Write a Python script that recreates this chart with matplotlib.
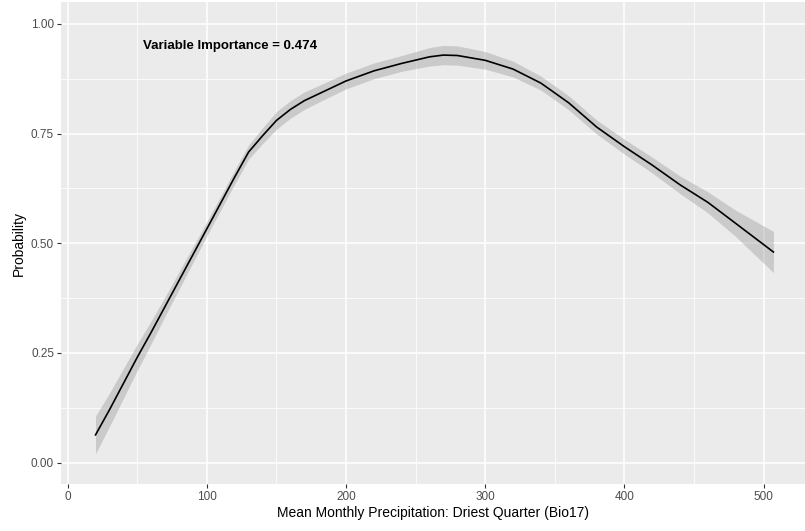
import numpy as np
import matplotlib
matplotlib.use("Agg")
import matplotlib.pyplot as plt
from matplotlib.ticker import MultipleLocator

# Partial dependence curve
precip = [20, 30, 40, 50, 60, 70, 80, 90, 100, 110, 120, 130, 140, 150, 160,
          170, 180, 200, 220, 240, 260, 270, 280, 300, 320, 340, 360, 380,
          400, 420, 440, 460, 480, 507]
prob = [0.063, 0.12, 0.18, 0.24, 0.297, 0.356, 0.415, 0.474, 0.533, 0.592,
        0.651, 0.708, 0.745, 0.78, 0.805, 0.825, 0.84, 0.87, 0.893, 0.91,
        0.925, 0.929, 0.928, 0.917, 0.897, 0.865, 0.82, 0.765, 0.72, 0.678,
        0.633, 0.593, 0.545, 0.48]
half_width = [0.043, 0.038, 0.034, 0.03, 0.026, 0.022, 0.02, 0.018, 0.016,
              0.016, 0.016, 0.016, 0.018, 0.02, 0.02, 0.02, 0.019, 0.018,
              0.018, 0.018, 0.021, 0.022, 0.022, 0.02, 0.018, 0.016, 0.016,
              0.016, 0.017, 0.018, 0.02, 0.024, 0.03, 0.047]
importance = 0.474

x = np.array(precip)
y = np.array(prob)
hw = np.array(half_width)

plt.rcParams['font.family'] = ['Liberation Sans', 'DejaVu Sans']

fig = plt.figure(figsize=(8.05, 5.31), dpi=100)
W, H = 805, 531
ax = fig.add_axes([61 / W, (H - 484) / H, (805 - 61) / W, (484 - 2) / H])
ax.set_facecolor('#EBEBEB')
for s in ax.spines.values():
    s.set_visible(False)

ax.set_xlim(-4.8, 529.7)
ax.set_ylim(-0.049, 1.05)

ax.xaxis.set_major_locator(MultipleLocator(100))
ax.xaxis.set_minor_locator(MultipleLocator(50))
ax.yaxis.set_major_locator(MultipleLocator(0.25))
ax.yaxis.set_minor_locator(MultipleLocator(0.125))
ax.grid(which='major', color='white', linewidth=1.1)
ax.grid(which='minor', color='white', linewidth=0.55)
ax.set_axisbelow(True)
ax.set_yticks([0, 0.25, 0.5, 0.75, 1.0])
ax.set_yticklabels(['0.00', '0.25', '0.50', '0.75', '1.00'])

ax.tick_params(which='major', length=3, width=0.8, color='#333333',
               labelcolor='#4D4D4D', labelsize=8.5, pad=2)
ax.tick_params(which='minor', length=0)

ax.fill_between(x, y - hw, y + hw, color='#999999', alpha=0.4, linewidth=0)
ax.plot(x, y, color='black', linewidth=1.2)

ax.text(116.6, 0.95, f'Variable Importance = {importance:.3f}',
        ha='center', va='center', fontsize=9.5, fontweight='bold', color='black')

ax.set_xlabel('Mean Monthly Precipitation: Driest Quarter (Bio17)', fontsize=10,
              labelpad=2)
ax.set_ylabel('Probability', fontsize=10, labelpad=4)

fig.savefig('out.png', dpi=100)
